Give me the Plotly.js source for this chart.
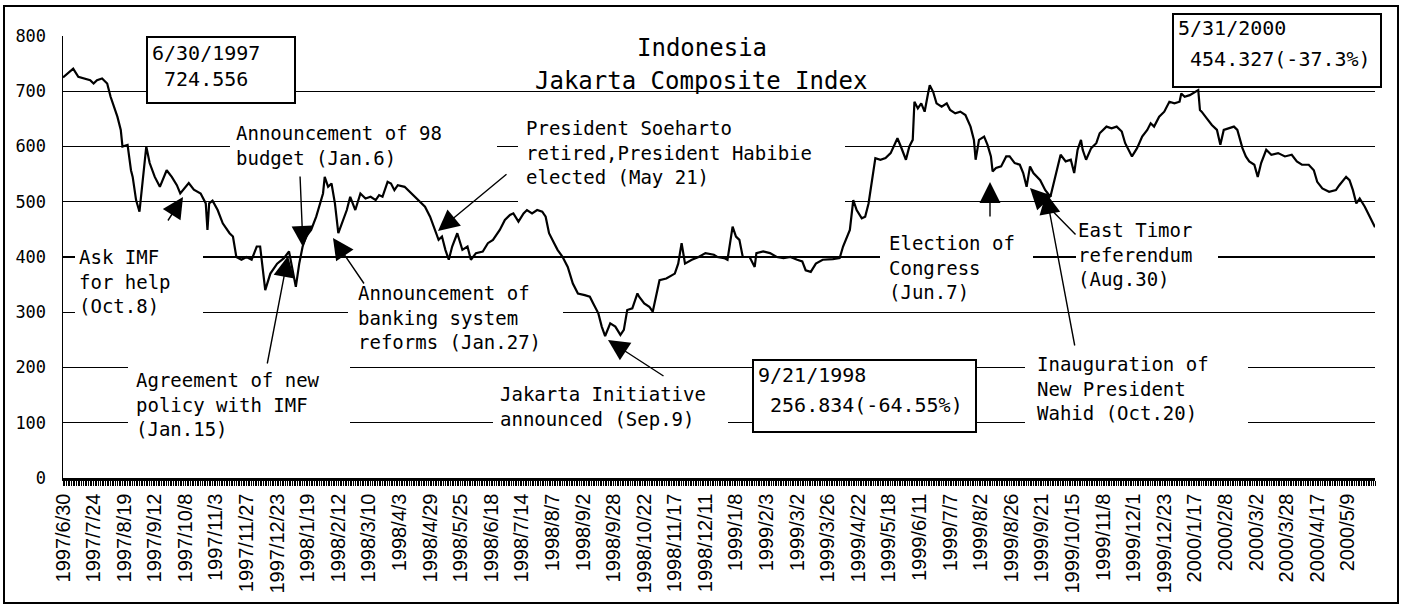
<!DOCTYPE html>
<html>
<head>
<meta charset="utf-8">
<script src="https://cdn.plot.ly/plotly-3.0.1.min.js"></script>
<style>html,body{margin:0;padding:0;background:#fff;}#chart{width:1409px;height:607px;}</style>
</head>
<body>
<div id="chart"></div>
<script>
// ---- data: trading-day index since 1997/6/30 and Jakarta Composite Index close ----
const dayIndex = [0,6,9,13,16,18,20,23,26,28,30,32,34,35,38,40,41,43,45,47,49,51,54,57,61,64,67,69,74,77,81,84,85,86,88,91,94,98,100,102,105,108,111,114,116,119,122,126,130,133,135,137,139,141,143,146,149,153,154,156,158,160,162,164,167,169,172,175,178,181,184,186,188,191,193,195,197,201,205,209,213,216,219,221,223,225,227,229,232,235,238,240,243,247,250,253,257,260,263,265,268,271,273,276,279,282,284,286,289,291,294,297,300,303,307,310,312,315,317,319,322,325,328,330,332,335,338,339,342,345,347,349,351,355,360,362,364,366,370,374,378,383,385,389,391,394,396,398,400,404,407,408,412,416,420,424,428,432,435,437,440,443,447,453,457,459,461,463,465,467,470,472,474,476,478,481,484,487,489,491,493,496,498,500,501,503,505,507,509,510,512,514,517,520,522,525,528,531,534,536,537,539,542,544,546,547,549,552,555,557,560,563,565,567,569,571,575,578,581,583,585,587,590,593,595,597,599,600,602,605,608,610,614,617,620,623,625,627,629,632,635,638,640,642,645,648,651,654,657,658,660,663,666,668,669,670,673,676,679,681,683,686,689,691,694,696,698,701,703,705,707,708,711,715,719,723,726,729,733,736,738,741,745,749,751,755,757,759,761,763,766,769,772];
const jciValue = [725,741,726,723,720,714,720,723,714,690,672,654,630,600,603,557,545,503,482,539,600,570,545,527,557,545,530,515,534,522,515,497,449,497,502,485,461,443,437,400,395,400,395,419,419,340,370,388,398,410,376,346,388,419,437,449,473,515,545,527,533,497,443,461,485,509,485,515,506,509,503,512,509,536,533,521,530,527,515,503,491,473,449,431,437,413,395,419,443,413,419,395,407,410,425,431,449,467,476,479,464,479,485,479,485,482,473,443,425,413,400,382,352,334,331,328,316,298,274,257,280,274,259,268,304,307,334,328,316,310,301,328,358,361,370,388,425,388,395,400,407,404,400,398,395,455,437,431,400,400,382,407,410,407,400,398,400,395,392,376,373,388,395,396,398,419,434,449,503,485,470,473,497,539,579,576,579,588,603,615,600,576,600,612,681,669,678,663,696,711,699,678,672,678,666,660,663,657,636,612,576,612,618,603,582,555,561,564,582,582,570,567,552,527,564,552,539,521,509,533,557,585,573,576,552,594,612,594,576,597,606,624,636,633,636,627,606,594,582,597,618,630,642,636,654,663,681,678,681,696,690,693,699,702,666,663,651,639,630,603,630,633,636,630,597,582,573,567,545,570,585,594,585,588,582,585,573,567,567,557,536,524,518,521,530,545,539,521,497,506,491,473,454];

// category labels shown every 18 trading days
const tickLabels = ["1997/6/30","1997/7/24","1997/8/19","1997/9/12","1997/10/8","1997/11/3","1997/11/27","1997/12/23","1998/1/19","1998/2/12","1998/3/10","1998/4/3","1998/4/29","1998/5/25","1998/6/18","1998/7/14","1998/8/7","1998/9/2","1998/9/28","1998/10/22","1998/11/17","1998/12/11","1999/1/8","1999/2/3","1999/3/2","1999/3/26","1999/4/22","1999/5/18","1999/6/11","1999/7/7","1999/8/2","1999/8/26","1999/9/21","1999/10/15","1999/11/8","1999/12/1","1999/12/23","2000/1/17","2000/2/8","2000/3/2","2000/3/28","2000/4/17","2000/5/9"];
const labelStep = 18;
const tickIndex = tickLabels.map((_, i) => i * labelStep);

// ---- layout helpers (pixel -> paper) ----
const W = 1409, H = 607, L = 63, R = 1375, T = 36, B = 478;
const px = x => (x - L) / (R - L);
const py = y => (B - y) / (B - T);
const MONO = "DejaVu Sans Mono, monospace";

const shapes = [];
// white masks that interrupt gridlines behind text blocks (kept clear of the index line)
[[75,240,203,325],[230,120,497,170],[518,108,845,205],[348,275,563,350],[128,355,350,440],
 [493,382,728,440],[880,225,1033,305],[1076,215,1218,300],[1025,345,1248,440]].forEach(r => {
  shapes.push({type:'rect', xref:'paper', yref:'paper', x0:px(r[0]), x1:px(r[2]), y0:py(r[3]), y1:py(r[1]),
    fillcolor:'white', line:{width:0}, layer:'above'});
});
// bordered value boxes
[[147,37,295,103],[753,360,976,432],[1173,14,1381,87]].forEach(r => {
  shapes.push({type:'rect', xref:'paper', yref:'paper', x0:px(r[0]), x1:px(r[2]), y0:py(r[3]), y1:py(r[1]),
    fillcolor:'white', line:{color:'black', width:2}, layer:'above'});
});
// outer chart frame
shapes.push({type:'rect', xref:'paper', yref:'paper', x0:px(4), x1:px(1398), y0:py(603), y1:py(6),
  fillcolor:'rgba(0,0,0,0)', line:{color:'black', width:2}, layer:'above'});

const annotations = [];
function txt(x, y, text, size, anchor) {
  annotations.push({xref:'paper', yref:'paper', x:px(x), y:py(y), text:text, showarrow:false,
    xanchor:anchor || 'left', yanchor:'middle', align:'left',
    font:{family:MONO, size:size, color:'black'}});
}
function arrow(tx, ty, hx, hy) {
  annotations.push({xref:'paper', yref:'paper', x:px(hx), y:py(hy), ax:tx - hx, ay:ty - hy, text:'',
    showarrow:true, arrowhead:2, arrowsize:3, arrowwidth:1.4, arrowcolor:'black', standoff:0, startstandoff:0});
}
// title
txt(702, 48, 'Indonesia', 24, 'center');
txt(701, 81, 'Jakarta Composite Index', 24, 'center');
// value boxes
txt(150, 53, '6/30/1997', 20); txt(150, 79, '\u00a0724.556', 20);
txt(756, 375, '9/21/1998', 20); txt(756, 405, '\u00a0256.834(-64.55%)', 20);
txt(1176, 28, '5/31/2000', 20); txt(1176, 59, '\u00a0454.327(-37.3%)', 20);
// event notes
txt(77, 281, 'Ask IMF<br>for help<br>(Oct.8)', 19);
txt(234, 145, 'Announcement of 98<br>budget (Jan.6)', 19);
txt(524, 152, 'President Soeharto<br>retired,President Habibie<br>elected (May 21)', 19);
txt(356, 317, 'Announcement of<br>banking system<br>reforms (Jan.27)', 19);
txt(134, 404, 'Agreement of new<br>policy with IMF<br>(Jan.15)', 19);
txt(498, 406, 'Jakarta Initiative<br>announced (Sep.9)', 19);
txt(887, 267, 'Election of<br>Congress<br>(Jun.7)', 19);
txt(1076, 254, 'East Timor<br>referendum<br>(Aug.30)', 19);
txt(1035, 388, 'Inauguration of<br>New President<br>Wahid (Oct.20)', 19);
// arrows (tail -> head)
arrow(167,222, 183,197);
arrow(300,175, 303,247);
arrow(267,365, 288,256);
arrow(365,285, 333,238);
arrow(508,173, 438,231);
arrow(665,377, 608,340);
arrow(990,218, 990,182);
arrow(1077,236, 1030,188);
arrow(1075,347, 1046,193);

const trace = {x: dayIndex, y: jciValue, type:'scatter', mode:'lines',
  line:{color:'black', width:2.2}, hoverinfo:'skip'};

const layout = {
  width:W, height:H, margin:{l:L, r:W-R, t:T, b:H-B, pad:0},
  paper_bgcolor:'white', plot_bgcolor:'white', showlegend:false,
  xaxis:{range:[0,772], tickmode:'array', tickvals:tickIndex, ticktext:tickLabels, tickangle:-90,
    ticks:'outside', ticklen:5, tickwidth:1, tickcolor:'black', showline:true, linecolor:'black', linewidth:2.5,
    showgrid:false, zeroline:false, tickfont:{family:'Liberation Sans, Arial, sans-serif', size:20, color:'black'},
    minor:{tick0:0, dtick:1, ticks:'outside', ticklen:5, tickwidth:1, tickcolor:'black', showgrid:false}},
  yaxis:{range:[0,800], tick0:0, dtick:100, showgrid:true, gridcolor:'black', gridwidth:1.3,
    showline:true, linecolor:'black', linewidth:1.5, zeroline:false, ticks:'', ticklabelstandoff:12,
    tickfont:{family:MONO, size:17, color:'black'}},
  shapes:shapes, annotations:annotations
};
Plotly.newPlot('chart', [trace], layout, {staticPlot:true, displayModeBar:false});
</script>
</body>
</html>
